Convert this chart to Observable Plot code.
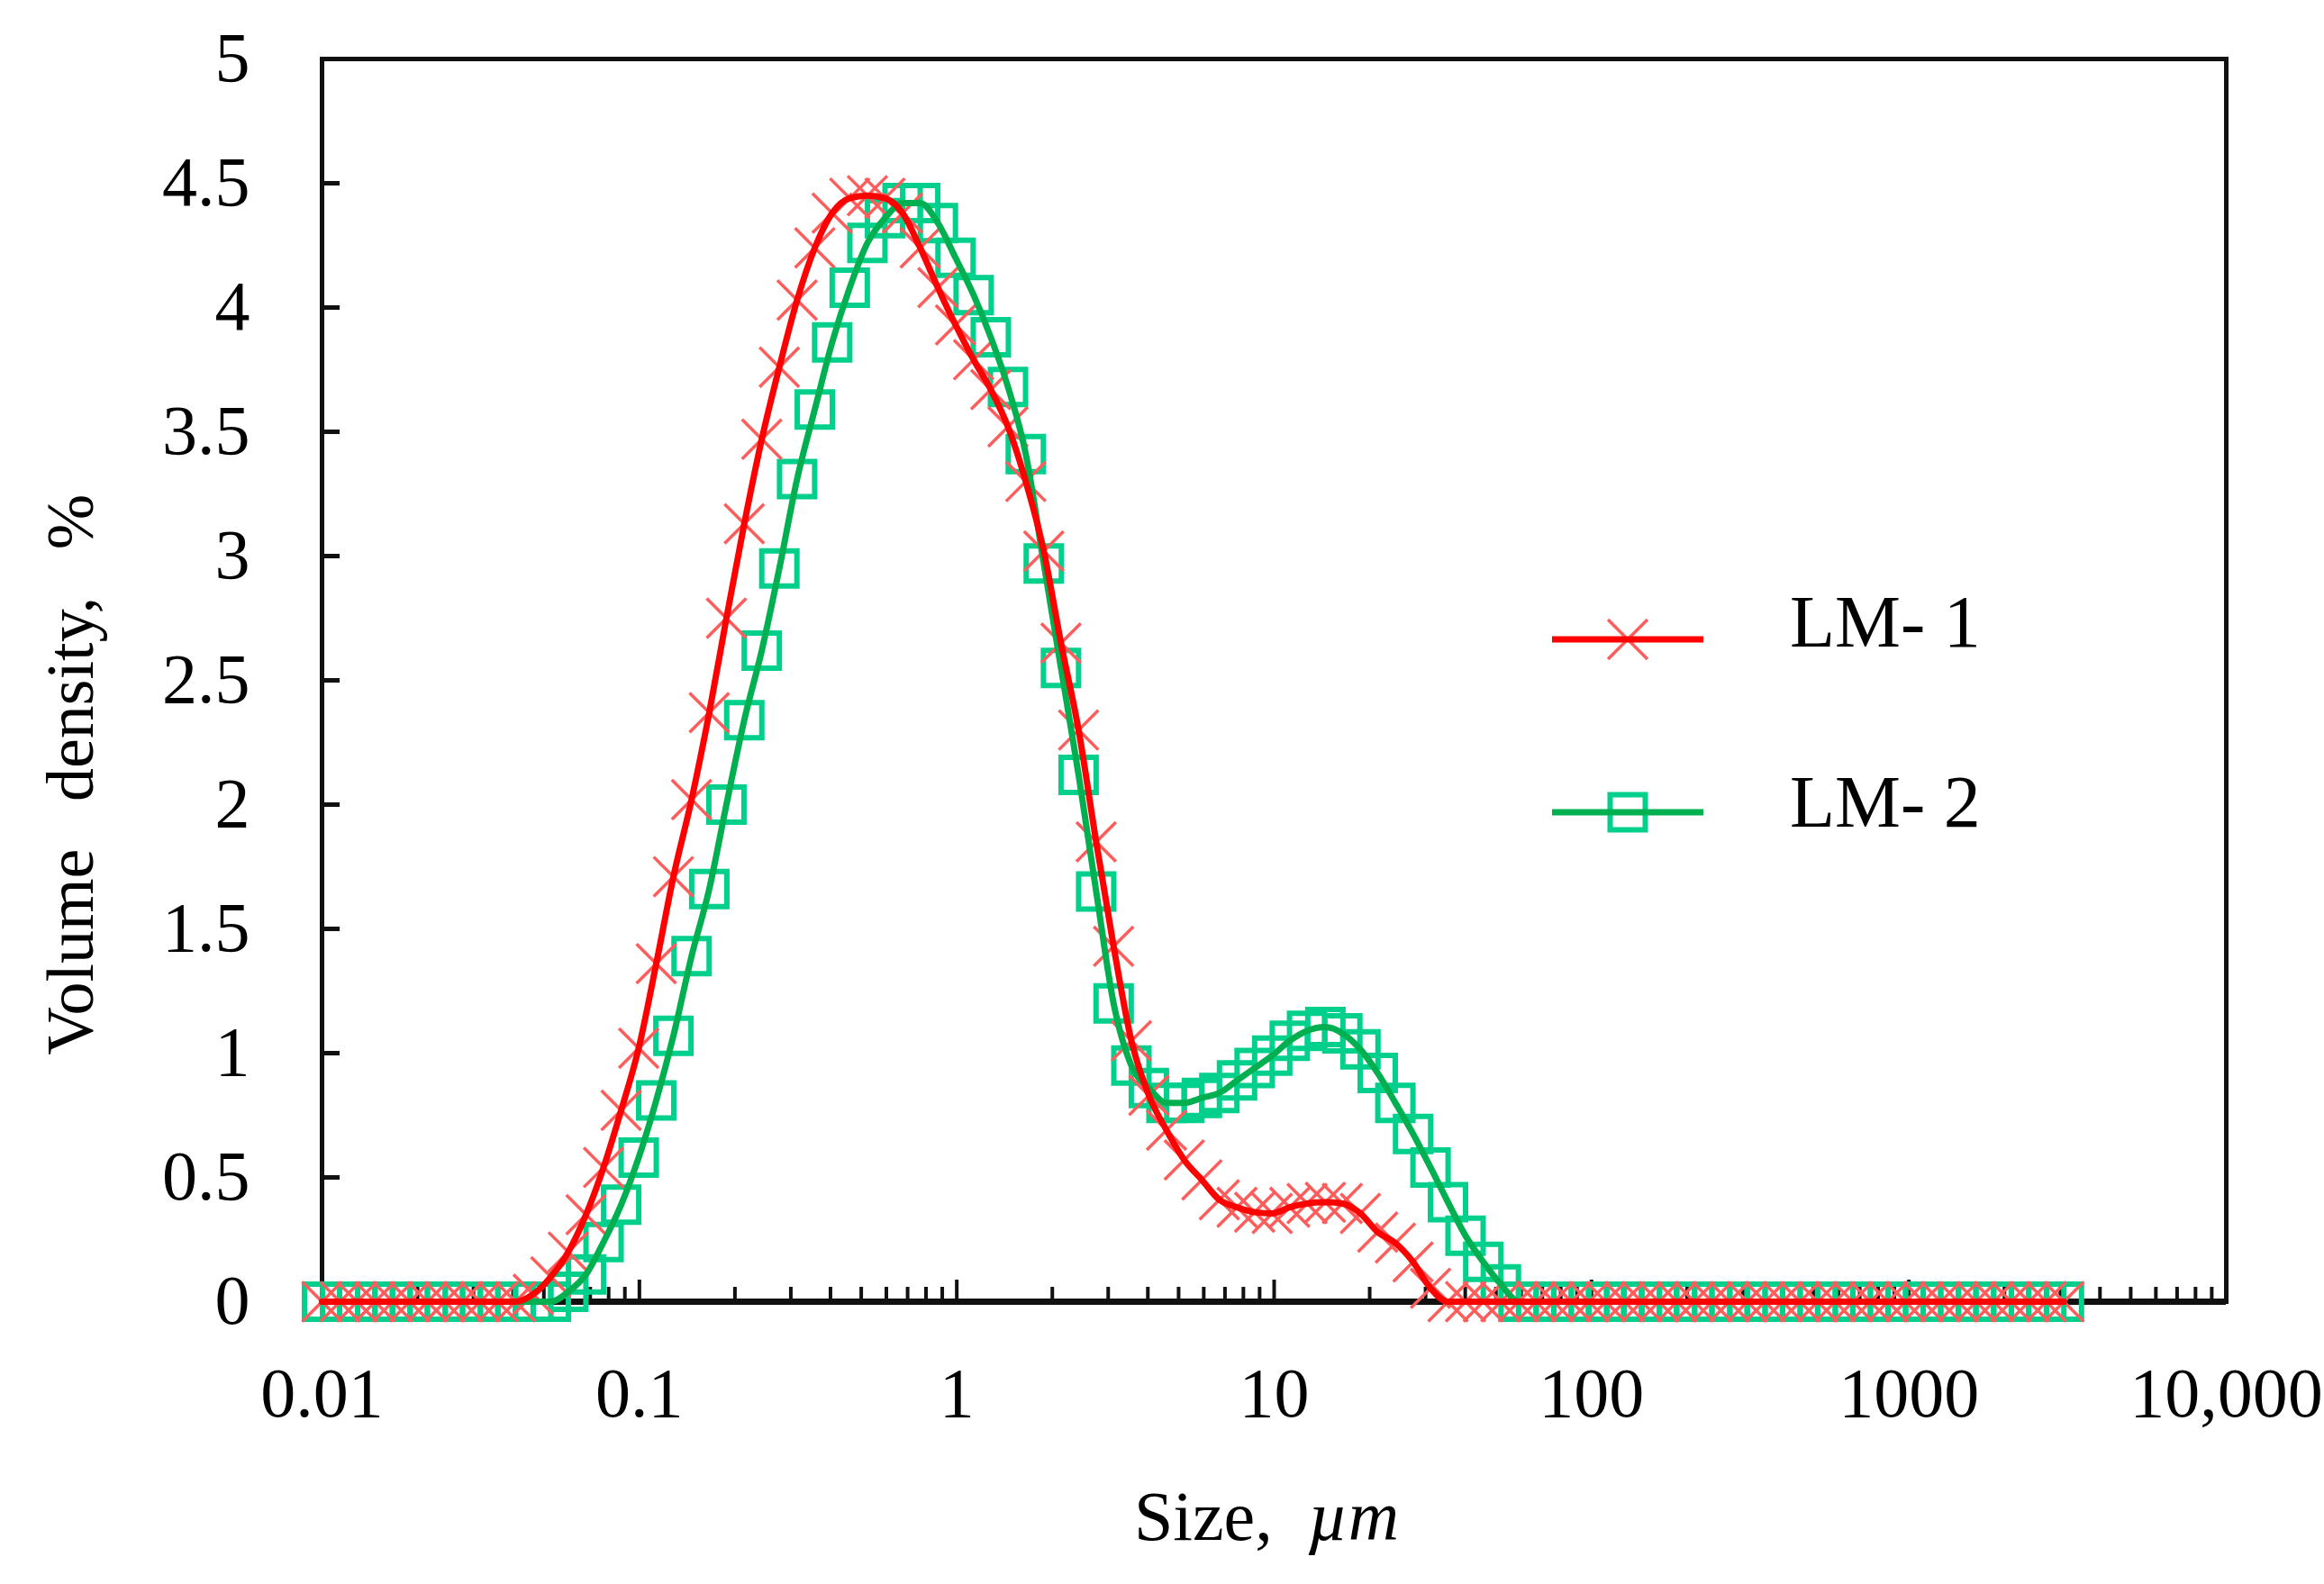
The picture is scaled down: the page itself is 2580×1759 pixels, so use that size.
<!DOCTYPE html>
<html>
<head>
<meta charset="utf-8">
<script src="https://cdn.jsdelivr.net/npm/d3@7"></script>
<script src="https://cdn.jsdelivr.net/npm/@observablehq/plot@0.6"></script>
<style>
  html, body { margin: 0; padding: 0; background: #fff; overflow: hidden; }
  #chart svg { display: block; }
</style>
</head>
<body>
<div id="chart"></div>
<script>
// Size classes (µm)
const sizes = [0.0100, 0.0114, 0.0129, 0.0147, 0.0167, 0.0189, 0.0215, 0.0244, 0.0278, 0.0315,
  0.0358, 0.0407, 0.0463, 0.0526, 0.0597, 0.0679, 0.0771, 0.0876, 0.0995, 0.113,
  0.128, 0.146, 0.166, 0.188, 0.214, 0.243, 0.276, 0.314, 0.357, 0.405,
  0.460, 0.523, 0.594, 0.675, 0.767, 0.872, 0.991, 1.13, 1.28, 1.45,
  1.65, 1.88, 2.13, 2.42, 2.75, 3.12, 3.55, 4.03, 4.58, 5.21,
  5.92, 6.72, 7.64, 8.68, 9.86, 11.2, 12.7, 14.5, 16.4, 18.7,
  21.2, 24.1, 27.4, 31.1, 35.3, 40.1, 45.6, 51.8, 58.9, 66.9,
  76.0, 86.4, 98.1, 111, 127, 144, 163, 186, 211, 240,
  272, 310, 352, 400, 454, 516, 586, 666, 756, 859,
  976, 1110, 1260, 1430, 1630, 1850, 2100, 2390, 2710, 3080];

// Volume density, % — LM-1
const lm1 = [0, 0, 0, 0, 0, 0, 0, 0, 0, 0,
  0, 0, 0.03, 0.10, 0.20, 0.35, 0.54, 0.77, 1.02, 1.36,
  1.71, 2.02, 2.37, 2.75, 3.13, 3.47, 3.76, 4.03, 4.24, 4.38,
  4.44, 4.45, 4.44, 4.38, 4.24, 4.08, 3.93, 3.79, 3.67, 3.52,
  3.30, 3.02, 2.65, 2.30, 1.85, 1.43, 1.05, 0.83, 0.69, 0.57,
  0.49, 0.41, 0.38, 0.36, 0.355, 0.38, 0.395, 0.40, 0.395, 0.355,
  0.28, 0.236, 0.16, 0.054, 0, 0, 0, 0, 0, 0,
  0, 0, 0, 0, 0, 0, 0, 0, 0, 0,
  0, 0, 0, 0, 0, 0, 0, 0, 0, 0,
  0, 0, 0, 0, 0, 0, 0, 0, 0, 0];

// Volume density, % — LM-2
const lm2 = [0, 0, 0, 0, 0, 0, 0, 0, 0, 0,
  0, 0, 0, 0, 0.04, 0.11, 0.24, 0.39, 0.58, 0.81,
  1.07, 1.39, 1.66, 2.00, 2.34, 2.62, 2.95, 3.31, 3.59, 3.86,
  4.08, 4.26, 4.36, 4.42, 4.42, 4.34, 4.20, 4.05, 3.88, 3.68,
  3.41, 2.97, 2.55, 2.12, 1.65, 1.20, 0.95, 0.86, 0.80, 0.80,
  0.82, 0.84, 0.89, 0.94, 0.99, 1.05, 1.09, 1.105, 1.08, 1.015,
  0.92, 0.80, 0.675, 0.54, 0.40, 0.265, 0.16, 0.07, 0, 0,
  0, 0, 0, 0, 0, 0, 0, 0, 0, 0,
  0, 0, 0, 0, 0, 0, 0, 0, 0, 0,
  0, 0, 0, 0, 0, 0, 0, 0, 0, 0];

const seriesNames = ["LM- 1", "LM- 2"];
const xTickValues = [0.01, 0.1, 1, 10, 100, 1000, 10000];
const xTickLabels = ["0.01", "0.1", "1", "10", "100", "1000", "10,000"];
const yLabelValues = [0, 0.5, 1, 1.5, 2, 2.5, 3, 3.5, 4, 4.5, 5];
const yTickMarks = [0.5, 1, 1.5, 2, 2.5, 3, 3.5, 4, 4.5];
const xMinor = [];
for (let d = 0; d < xTickValues.length - 1; d++) for (let k = 2; k <= 9; k++) xMinor.push(+(xTickValues[d] * k).toPrecision(3));

const rows = sizes.map((s, i) => ({size: s, lm1: lm1[i], lm2: lm2[i]}));

const W = 2580, H = 1759;
const mL = 357, mR = 109, mT = 65, mB = 314;
const innerW = W - mL - mR, innerH = H - mT - mB;
const FONT = "'Liberation Serif', 'Times New Roman', serif";

const chart = Plot.plot({
  width: W, height: H,
  marginLeft: mL, marginRight: mR, marginTop: mT, marginBottom: mB,
  style: {fontFamily: FONT, fontSize: "78px", background: "#fff", color: "#000"},
  x: {type: "log", domain: [0.01, 10000]},
  y: {domain: [0, 5]},
  marks: [
    Plot.frame({stroke: "#111", strokeWidth: 5}),
    Plot.tickY(yTickMarks, {y: d => d, insetRight: innerW - 20, stroke: "#111", strokeWidth: 5}),
    Plot.tickX(xTickValues, {x: d => d, insetTop: innerH - 24, stroke: "#111", strokeWidth: 4}),
    Plot.tickX(xMinor, {x: d => d, insetTop: innerH - 16, stroke: "#111", strokeWidth: 4}),
    Plot.ruleY([0], {stroke: "#111", strokeWidth: 7}),
    Plot.axisX({ticks: xTickValues, tickSize: 0, tickPadding: 72, label: null,
      tickFormat: d => xTickLabels[xTickValues.indexOf(d)], fontSize: 78}),
    Plot.axisY({ticks: yLabelValues, tickSize: 0, tickPadding: 80, label: null,
      tickFormat: d => String(d), fontSize: 78}),
    Plot.dot(rows, {x: "size", y: "lm2", symbol: "square", r: 22, stroke: "#00d08c", strokeWidth: 6, fill: "none"}),
    Plot.dot(rows, {x: "size", y: "lm1", symbol: "times", r: 20, stroke: "#ff5c5c", strokeWidth: 3.5}),
    Plot.line(rows, {x: "size", y: "lm2", stroke: "#00b050", strokeWidth: 7, curve: "monotone-x"}),
    Plot.line(rows, {x: "size", y: "lm1", stroke: "#ff0000", strokeWidth: 7, curve: "monotone-x"})
  ]
});

document.getElementById("chart").appendChild(chart);

const svg = d3.select(chart);

// Axis titles
svg.append("text")
  .attr("transform", "translate(103,860) rotate(-90)")
  .attr("text-anchor", "middle")
  .attr("font-family", FONT).attr("font-size", 74).attr("word-spacing", 34)
  .attr("fill", "#000")
  .text("Volume density, %");

const xt = svg.append("text")
  .attr("x", 1406).attr("y", 1710)
  .attr("text-anchor", "middle")
  .attr("font-family", FONT).attr("font-size", 78).attr("fill", "#000");
xt.append("tspan").text("Size,\u00a0\u00a0");
xt.append("tspan").attr("font-style", "italic").text("µm");

// Legend
const legend = [
  {name: seriesNames[0], y: 710, line: "#ff0000", sym: d3.symbolTimes, ms: "#ff5c5c", sw: 3.5, r: 20, ty: 718},
  {name: seriesNames[1], y: 902, line: "#00b050", sym: d3.symbolSquare, ms: "#00d08c", sw: 6, r: 22, ty: 918}
];
const lg = svg.append("g");
legend.forEach(e => {
  lg.append("path")
    .attr("d", d3.symbol(e.sym, Math.PI * e.r * e.r)())
    .attr("transform", `translate(1807,${e.y})`)
    .attr("fill", "none").attr("stroke", e.ms).attr("stroke-width", e.sw);
  lg.append("line")
    .attr("x1", 1723).attr("x2", 1891).attr("y1", e.y).attr("y2", e.y)
    .attr("stroke", e.line).attr("stroke-width", 7);
  lg.append("text")
    .attr("x", 1987).attr("y", e.ty)
    .attr("text-anchor", "start")
    .attr("font-family", FONT).attr("font-size", 82).attr("fill", "#000")
    .style("white-space", "pre")
    .text(e.name);
});
</script>
</body>
</html>
